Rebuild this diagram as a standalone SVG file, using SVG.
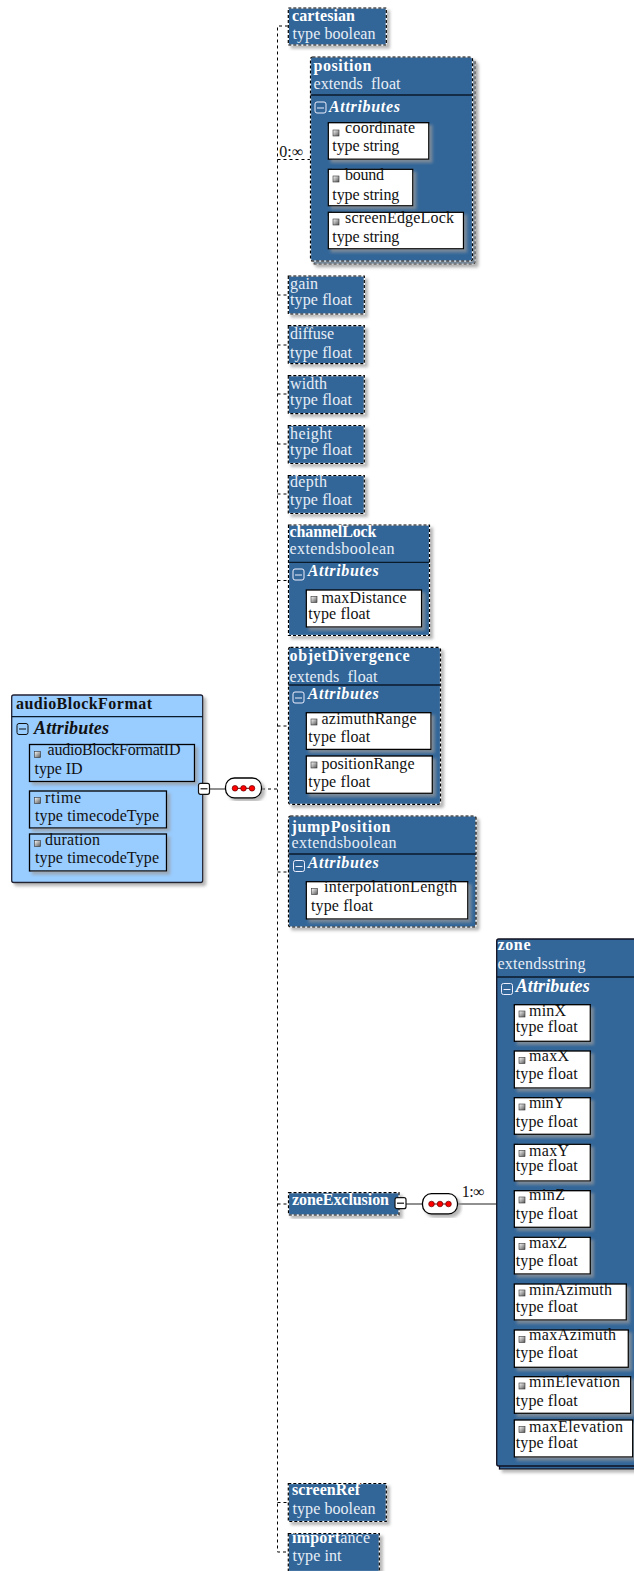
<svg xmlns="http://www.w3.org/2000/svg" width="634" height="1571" viewBox="0 0 634 1571">
<style>
text{font-family:"Liberation Serif","Times New Roman",serif;font-size:16px;white-space:pre}
.box{fill:#336699;stroke:#fff;stroke-width:1.2;filter:url(#sh)}
.dash{fill:none;stroke:#000;stroke-width:1.2;stroke-dasharray:3 2}
.root{fill:#99ccff;stroke:#223;stroke-width:1.3;filter:url(#sh)}
.attr{fill:#fff;stroke:#000;stroke-width:1.3;filter:url(#sh)}
.attr0{fill:#99ccff;stroke:#000;stroke-width:1.3;filter:url(#sh)}
.div{stroke:#0b1a2b;stroke-width:1.3;fill:none}
.w{fill:#e8eef6}
.wb{fill:#fff;font-weight:bold}
.wa{fill:#fff;font-weight:bold;font-style:italic}
.za{fill:#fff;font-weight:bold;font-style:italic;font-size:18px}
.k{fill:#111}
.kb{fill:#111;font-weight:bold}
.ka{fill:#111;font-weight:bold;font-style:italic;font-size:18px}
.con{fill:none;stroke:#222;stroke-width:1.1}
.cond{fill:none;stroke:#000;stroke-width:1;stroke-dasharray:3 3}
.pill{fill:#fff;stroke:#000;stroke-width:1.3;filter:url(#sh)}
.dot{fill:#f00;stroke:#600;stroke-width:.7}
</style>
<defs>
<filter id="sh" x="-10%" y="-10%" width="125%" height="125%"><feDropShadow dx="3" dy="3" stdDeviation="1.5" flood-color="#999" flood-opacity=".7"/></filter>
<linearGradient id="ig" x1="0" y1="0" x2="1" y2="1"><stop offset="0" stop-color="#fff"/><stop offset="1" stop-color="#555"/></linearGradient>
<rect id="i" width="6" height="6" fill="url(#ig)" stroke="#333" stroke-width=".6"/>
<g id="mw"><rect width="11" height="11" rx="2" fill="none" stroke="#eef" stroke-width="1"/><path d="M2 6H9" stroke="#eef" stroke-width="1"/></g>
<g id="mk"><rect width="11" height="11" rx="2" fill="#fff" stroke="#111" stroke-width="1.2"/><path d="M2 5.5H9" stroke="#111" stroke-width="1.2"/></g>
<g id="mb"><rect width="11" height="11" rx="2" fill="none" stroke="#111" stroke-width="1"/><path d="M2 5.5H9" stroke="#111" stroke-width="1"/></g>
<g id="seq"><path d="M-8.5 0H8.5" stroke="#500" stroke-width="1"/><circle cx="-8.5" r="2.8" class="dot"/><circle r="2.8" class="dot"/><circle cx="8.5" r="2.8" class="dot"/></g>
</defs>
<rect width="634" height="1571" fill="#fff"/>

<g id="connectors">
<path class="cond" d="M288 26H277.5V1552H288M277.5 159.5H310M277.5 295H288M277.5 345H288M277.5 394H288M277.5 444H288M277.5 494H288M277.5 580.5H288M277.5 726H288M277.5 872H288M277.5 1204H288M277.5 1502.5H288M262 789H277.5"/>
<path class="con" d="M209 789H226M406 1204H423M457 1204H497"/>
</g>

<g id="root">
<rect class="root" x="11.7" y="695" width="191" height="187.5" rx="2"/>
<path class="div" d="M11.7 716.7H202.7"/>
<text class="kb" x="16" y="708.5" textLength="136">audioBlockFormat</text>
<use href="#mb" x="17" y="723.5"/>
<text class="ka" x="34" y="733.5" textLength="75">Attributes</text>
<rect class="attr0" x="29.5" y="744.5" width="165" height="37"/>
<use href="#i" x="34.5" y="751.5"/><text class="k" x="47.5" y="755" textLength="133">audioBlockFormatID</text><text class="k" x="34.5" y="773.5" textLength="48">type ID</text>
<rect class="attr0" x="29.5" y="791" width="137" height="37"/>
<use href="#i" x="34.5" y="797.5"/><text class="k" x="45" y="802.5" textLength="36">rtime</text><text class="k" x="35" y="821" textLength="124">type timecodeType</text>
<rect class="attr0" x="29.5" y="834" width="137" height="37"/>
<use href="#i" x="34.5" y="840.5"/><text class="k" x="45" y="845" textLength="55">duration</text><text class="k" x="35" y="863" textLength="124">type timecodeType</text>
<use href="#mk" x="198.5" y="783.3"/>
</g>
<g id="seq1"><rect class="pill" x="225.5" y="778" width="36" height="20" rx="9"/><use href="#seq" x="243.5" y="788.3"/></g>

<g id="cartesian"><rect class="box" x="288.3" y="8" width="98" height="37"/><rect class="dash" x="288.3" y="8" width="98" height="37"/><text class="wb" x="292" y="20.7" textLength="63">cartesian</text><text class="w" x="292.5" y="39" textLength="83">type boolean</text></g>

<g id="position">
<rect class="box" x="313" y="60" width="162" height="204" rx="2"/><rect class="dash" x="313" y="60" width="162" height="204" rx="2"/>
<rect class="box" x="310.5" y="57" width="162" height="204" rx="2"/><rect class="dash" x="310.5" y="57" width="162" height="204" rx="2"/>
<path class="div" d="M310.5 95H472.5"/>
<text class="wb" x="313.5" y="71" textLength="58">position</text><text class="w" x="313.5" y="88.5" textLength="87">extends  float</text>
<use href="#mw" x="315" y="102"/><text class="wa" x="329" y="112.3" textLength="71">Attributes</text>
<rect class="attr" x="328.3" y="122.7" width="100.5" height="36.5"/><use href="#i" x="333" y="130"/><text class="k" x="345" y="133.3" textLength="70">coordinate</text><text class="k" x="332.3" y="151" textLength="67">type string</text>
<rect class="attr" x="328.3" y="169.3" width="84.5" height="36.5"/><use href="#i" x="333" y="176"/><text class="k" x="345" y="180.3" textLength="39">bound</text><text class="k" x="332.3" y="199.5" textLength="67">type string</text>
<rect class="attr" x="328.3" y="212.3" width="135.2" height="36.5"/><use href="#i" x="333" y="219"/><text class="k" x="345" y="223.3" textLength="109">screenEdgeLock</text><text class="k" x="332.3" y="241.7" textLength="67">type string</text>
</g>
<g id="card0"><text class="k" x="279.3" y="156.7" textLength="24">0:∞</text></g>

<g id="gain"><rect class="box" x="288.3" y="276" width="76" height="38"/><rect class="dash" x="288.3" y="276" width="76" height="38"/><text class="w" x="290" y="289" textLength="28">gain</text><text class="w" x="290" y="304.5" textLength="62">type float</text></g>
<g id="diffuse"><rect class="box" x="288.3" y="325.7" width="76" height="38"/><rect class="dash" x="288.3" y="325.7" width="76" height="38"/><text class="w" x="290" y="339" textLength="44">diffuse</text><text class="w" x="290" y="357.7" textLength="62">type float</text></g>
<g id="width"><rect class="box" x="288.3" y="375.7" width="76" height="38"/><rect class="dash" x="288.3" y="375.7" width="76" height="38"/><text class="w" x="290" y="389" textLength="37">width</text><text class="w" x="290" y="404.5" textLength="62">type float</text></g>
<g id="height"><rect class="box" x="288.3" y="425.5" width="76" height="38"/><rect class="dash" x="288.3" y="425.5" width="76" height="38"/><text class="w" x="290" y="439" textLength="42">height</text><text class="w" x="290" y="454.5" textLength="62">type float</text></g>
<g id="depth"><rect class="box" x="288.3" y="475.5" width="76" height="38"/><rect class="dash" x="288.3" y="475.5" width="76" height="38"/><text class="w" x="290" y="486.7" textLength="37">depth</text><text class="w" x="290" y="505" textLength="62">type float</text></g>

<g id="channelLock">
<rect class="box" x="288.5" y="525" width="141" height="110.5"/><rect class="dash" x="288.5" y="525" width="141" height="110.5"/>
<path class="div" d="M288.5 562.3H429.5"/>
<text class="wb" x="289.5" y="536.7" textLength="87">channelLock</text><text class="w" x="289.5" y="554.3" textLength="105">extendsboolean</text>
<use href="#mw" x="293" y="569"/><text class="wa" x="307.7" y="575.7" textLength="71">Attributes</text>
<rect class="attr" x="306.3" y="590" width="115.3" height="37"/><use href="#i" x="311" y="596.5"/><text class="k" x="321.5" y="602.7" textLength="85">maxDistance</text><text class="k" x="308.3" y="619.3" textLength="62">type float</text>
</g>

<g id="objetDivergence">
<rect class="box" x="288.5" y="647.3" width="152" height="157" rx="2"/><rect class="dash" x="288.5" y="647.3" width="152" height="157" rx="2"/>
<path class="div" d="M288.5 685H440.5"/>
<text class="wb" x="289.5" y="661" textLength="120">objetDivergence</text><text class="w" x="289.5" y="681.7" textLength="88">extends  float</text>
<use href="#mw" x="293" y="692"/><text class="wa" x="307.7" y="699.3" textLength="71">Attributes</text>
<rect class="attr" x="306.3" y="712.7" width="124.7" height="36.7"/><use href="#i" x="311" y="719"/><text class="k" x="321.5" y="724" textLength="95">azimuthRange</text><text class="k" x="308.3" y="741.7" textLength="62">type float</text>
<rect class="attr" x="306.3" y="756" width="126" height="37.3"/><use href="#i" x="311" y="762"/><text class="k" x="321.5" y="769" textLength="93">positionRange</text><text class="k" x="308.3" y="786.7" textLength="62">type float</text>
</g>

<g id="jumpPosition">
<rect class="box" x="288.5" y="816" width="187.5" height="111" rx="2"/><rect class="dash" x="288.5" y="816" width="187.5" height="111" rx="2"/>
<path class="div" d="M288.5 854H476"/>
<text class="wb" x="291.5" y="831.7" textLength="99">jumpPosition</text><text class="w" x="291.5" y="847.7" textLength="105">extendsboolean</text>
<use href="#mw" x="293.5" y="860.5"/><text class="wa" x="307.7" y="868" textLength="71">Attributes</text>
<rect class="attr" x="306.3" y="881.7" width="161.5" height="37.3"/><use href="#i" x="311.5" y="888.5"/><text class="k" x="324" y="891.7" textLength="133">interpolationLength</text><text class="k" x="311" y="910.7" textLength="62">type float</text>
</g>

<g id="zoneExclusion">
<rect class="box" x="288.5" y="1192.7" width="110.5" height="22.3"/><rect class="dash" x="288.5" y="1192.7" width="110.5" height="22.3"/>
<text class="wb" x="292" y="1205.3" textLength="97">zoneExclusion</text>
<use href="#mk" x="395" y="1197.7"/>
</g>
<g id="seq2"><rect class="pill" x="422.5" y="1193.7" width="35" height="20.3" rx="9"/><use href="#seq" x="440" y="1204"/></g>
<g id="card1"><text class="k" x="461.7" y="1197.3" textLength="23">1:∞</text></g>

<g id="zone">
<rect x="499.5" y="942" width="150" height="527" fill="#336699" stroke="#112" stroke-width="1.3" filter="url(#sh)"/>
<rect x="496.7" y="939" width="150" height="527" fill="#336699" stroke="#112" stroke-width="1.3" rx="2"/>
<path class="div" d="M496.7 977H640"/>
<text class="wb" x="497.5" y="950" textLength="33">zone</text><text class="w" x="497.5" y="969" textLength="88">extendsstring</text>
<use href="#mw" x="501.5" y="983.5"/><text class="za" x="515.7" y="991.7" textLength="74">Attributes</text>
<rect class="attr" x="514.3" y="1004.7" width="76" height="36.6"/><use href="#i" x="519" y="1011"/><text class="k" x="529" y="1016" textLength="37">minX</text><text class="k" x="515.7" y="1031.7" textLength="62">type float</text>
<rect class="attr" x="514.3" y="1051" width="76" height="37"/><use href="#i" x="519" y="1057.5"/><text class="k" x="529" y="1061" textLength="40">maxX</text><text class="k" x="515.7" y="1079" textLength="62">type float</text>
<rect class="attr" x="514.3" y="1097.7" width="76" height="36.6"/><use href="#i" x="519" y="1104"/><text class="k" x="529" y="1108.3" textLength="36">minY</text><text class="k" x="515.7" y="1126.7" textLength="62">type float</text>
<rect class="attr" x="514.3" y="1144.3" width="76" height="36.7"/><use href="#i" x="519" y="1150.5"/><text class="k" x="529" y="1155.7" textLength="40">maxY</text><text class="k" x="515.7" y="1171" textLength="62">type float</text>
<rect class="attr" x="514.3" y="1190.7" width="76" height="36.6"/><use href="#i" x="519" y="1197"/><text class="k" x="529" y="1200" textLength="36">minZ</text><text class="k" x="515.7" y="1219" textLength="62">type float</text>
<rect class="attr" x="514.3" y="1237.3" width="76" height="36.7"/><use href="#i" x="519" y="1243.5"/><text class="k" x="529" y="1248" textLength="38">maxZ</text><text class="k" x="515.7" y="1265.7" textLength="62">type float</text>
<rect class="attr" x="514.3" y="1284" width="112" height="36"/><use href="#i" x="519" y="1290"/><text class="k" x="529" y="1295" textLength="83">minAzimuth</text><text class="k" x="515.7" y="1311.7" textLength="62">type float</text>
<rect class="attr" x="514.3" y="1330" width="114" height="37.3"/><use href="#i" x="519" y="1336.5"/><text class="k" x="529" y="1340" textLength="87">maxAzimuth</text><text class="k" x="515.7" y="1358.3" textLength="62">type float</text>
<rect class="attr" x="514.3" y="1376.7" width="116.4" height="36.6"/><use href="#i" x="519" y="1383"/><text class="k" x="529" y="1387.3" textLength="91">minElevation</text><text class="k" x="515.7" y="1406" textLength="62">type float</text>
<rect class="attr" x="514.3" y="1420" width="118.4" height="37"/><use href="#i" x="519" y="1426.5"/><text class="k" x="529" y="1432.3" textLength="94">maxElevation</text><text class="k" x="515.7" y="1448.3" textLength="62">type float</text>
</g>

<g id="screenRef"><rect class="box" x="288.3" y="1483.5" width="98" height="38"/><rect class="dash" x="288.3" y="1483.5" width="98" height="38"/><text class="wb" x="292" y="1495" textLength="68">screenRef</text><text class="w" x="292.5" y="1514.3" textLength="83">type boolean</text></g>
<g id="importance"><rect class="box" x="288.3" y="1533.5" width="91" height="38"/><rect class="dash" x="288.3" y="1533.5" width="91" height="38"/><text class="wb" x="292" y="1542.7" textLength="78">import<tspan class="w" font-weight="normal">ance</tspan></text><text class="w" x="292.5" y="1561" textLength="49">type int</text></g>
</svg>
